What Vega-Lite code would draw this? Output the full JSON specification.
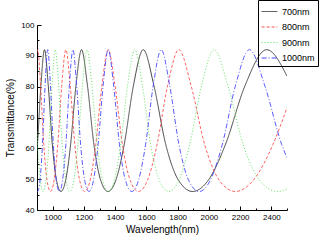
{
  "$schema": "https://vega.github.io/schema/vega-lite/v6.json",
  "width": 250,
  "height": 185,
  "autosize": {"type": "none"},
  "padding": {"left": 37, "top": 25, "right": 34, "bottom": 30},
  "background": "white",
  "config": {
    "view": {"stroke": null},
    "font": "Liberation Sans",
    "axis": {"grid": false, "domainColor": "#000", "tickColor": "#000", "labelColor": "#000", "titleColor": "#000", "labelFont": "Liberation Sans", "titleFont": "Liberation Sans", "labelFontSize": 8, "titleFontSize": 10, "titleFontWeight": "normal"}
  },
  "data": {"values": [
    {"s":"700nm","w":900,"t":59.27},{"s":"700nm","w":902.9,"t":61.33},{"s":"700nm","w":924.9,"t":80.25},{"s":"700nm","w":948,"t":92},{"s":"700nm","w":972.3,"t":80.25},{"s":"700nm","w":997.9,"t":61.33},{"s":"700nm","w":1024.9,"t":49.63},{"s":"700nm","w":1053.3,"t":46},{"s":"700nm","w":1083.4,"t":49.63},{"s":"700nm","w":1115.3,"t":61.33},{"s":"700nm","w":1149.1,"t":80.25},{"s":"700nm","w":1185,"t":92},{"s":"700nm","w":1223.2,"t":80.25},{"s":"700nm","w":1264,"t":61.33},{"s":"700nm","w":1307.6,"t":49.63},{"s":"700nm","w":1354.3,"t":46},{"s":"700nm","w":1404.4,"t":49.63},{"s":"700nm","w":1458.5,"t":61.33},{"s":"700nm","w":1516.8,"t":80.25},{"s":"700nm","w":1580,"t":92},{"s":"700nm","w":1648.7,"t":80.25},{"s":"700nm","w":1723.6,"t":61.33},{"s":"700nm","w":1805.7,"t":49.63},{"s":"700nm","w":1896,"t":46},{"s":"700nm","w":1995.8,"t":49.63},{"s":"700nm","w":2106.7,"t":61.33},{"s":"700nm","w":2230.6,"t":80.25},{"s":"700nm","w":2370,"t":92},{"s":"700nm","w":2500,"t":83.41},
    {"s":"800nm","w":900,"t":91.36},{"s":"800nm","w":904,"t":92},{"s":"800nm","w":923.2,"t":80.25},{"s":"800nm","w":943.3,"t":61.33},{"s":"800nm","w":964.3,"t":49.63},{"s":"800nm","w":986.2,"t":46},{"s":"800nm","w":1009.1,"t":49.63},{"s":"800nm","w":1033.1,"t":61.33},{"s":"800nm","w":1058.3,"t":80.25},{"s":"800nm","w":1084.8,"t":92},{"s":"800nm","w":1112.6,"t":80.25},{"s":"800nm","w":1141.9,"t":61.33},{"s":"800nm","w":1172.8,"t":49.63},{"s":"800nm","w":1205.3,"t":46},{"s":"800nm","w":1239.8,"t":49.63},{"s":"800nm","w":1276.2,"t":61.33},{"s":"800nm","w":1314.9,"t":80.25},{"s":"800nm","w":1356,"t":92},{"s":"800nm","w":1399.7,"t":80.25},{"s":"800nm","w":1446.4,"t":61.33},{"s":"800nm","w":1496.3,"t":49.63},{"s":"800nm","w":1549.7,"t":46},{"s":"800nm","w":1607.1,"t":49.63},{"s":"800nm","w":1668.9,"t":61.33},{"s":"800nm","w":1735.7,"t":80.25},{"s":"800nm","w":1808,"t":92},{"s":"800nm","w":1886.6,"t":80.25},{"s":"800nm","w":1972.4,"t":61.33},{"s":"800nm","w":2066.3,"t":49.63},{"s":"800nm","w":2169.6,"t":46},{"s":"800nm","w":2283.8,"t":49.63},{"s":"800nm","w":2410.7,"t":61.33},{"s":"800nm","w":2500,"t":73.15},
    {"s":"900nm","w":900,"t":65.42},{"s":"900nm","w":904,"t":61.33},{"s":"900nm","w":921.1,"t":49.63},{"s":"900nm","w":938.8,"t":46},{"s":"900nm","w":957.2,"t":49.63},{"s":"900nm","w":976.3,"t":61.33},{"s":"900nm","w":996.2,"t":80.25},{"s":"900nm","w":1017,"t":92},{"s":"900nm","w":1038.6,"t":80.25},{"s":"900nm","w":1061.2,"t":61.33},{"s":"900nm","w":1084.8,"t":49.63},{"s":"900nm","w":1109.5,"t":46},{"s":"900nm","w":1135.3,"t":49.63},{"s":"900nm","w":1162.3,"t":61.33},{"s":"900nm","w":1190.6,"t":80.25},{"s":"900nm","w":1220.4,"t":92},{"s":"900nm","w":1251.7,"t":80.25},{"s":"900nm","w":1284.6,"t":61.33},{"s":"900nm","w":1319.4,"t":49.63},{"s":"900nm","w":1356,"t":46},{"s":"900nm","w":1394.7,"t":49.63},{"s":"900nm","w":1435.8,"t":61.33},{"s":"900nm","w":1479.3,"t":80.25},{"s":"900nm","w":1525.5,"t":92},{"s":"900nm","w":1574.7,"t":80.25},{"s":"900nm","w":1627.2,"t":61.33},{"s":"900nm","w":1683.3,"t":49.63},{"s":"900nm","w":1743.4,"t":46},{"s":"900nm","w":1808,"t":49.63},{"s":"900nm","w":1877.5,"t":61.33},{"s":"900nm","w":1952.6,"t":80.25},{"s":"900nm","w":2034,"t":92},{"s":"900nm","w":2122.4,"t":80.25},{"s":"900nm","w":2218.9,"t":61.33},{"s":"900nm","w":2324.6,"t":49.63},{"s":"900nm","w":2440.8,"t":46},{"s":"900nm","w":2500,"t":46.8},
    {"s":"1000nm","w":900,"t":46.25},{"s":"1000nm","w":904,"t":46},{"s":"1000nm","w":919.3,"t":49.63},{"s":"1000nm","w":935.2,"t":61.33},{"s":"1000nm","w":951.6,"t":80.25},{"s":"1000nm","w":968.6,"t":92},{"s":"1000nm","w":986.2,"t":80.25},{"s":"1000nm","w":1004.4,"t":61.33},{"s":"1000nm","w":1023.4,"t":49.63},{"s":"1000nm","w":1043.1,"t":46},{"s":"1000nm","w":1063.5,"t":49.63},{"s":"1000nm","w":1084.8,"t":61.33},{"s":"1000nm","w":1106.9,"t":80.25},{"s":"1000nm","w":1130,"t":92},{"s":"1000nm","w":1154,"t":80.25},{"s":"1000nm","w":1179.1,"t":61.33},{"s":"1000nm","w":1205.3,"t":49.63},{"s":"1000nm","w":1232.7,"t":46},{"s":"1000nm","w":1261.4,"t":49.63},{"s":"1000nm","w":1291.4,"t":61.33},{"s":"1000nm","w":1322.9,"t":80.25},{"s":"1000nm","w":1356,"t":92},{"s":"1000nm","w":1390.8,"t":80.25},{"s":"1000nm","w":1427.4,"t":61.33},{"s":"1000nm","w":1465.9,"t":49.63},{"s":"1000nm","w":1506.7,"t":46},{"s":"1000nm","w":1549.7,"t":49.63},{"s":"1000nm","w":1595.3,"t":61.33},{"s":"1000nm","w":1643.6,"t":80.25},{"s":"1000nm","w":1695,"t":92},{"s":"1000nm","w":1749.7,"t":80.25},{"s":"1000nm","w":1808,"t":61.33},{"s":"1000nm","w":1870.3,"t":49.63},{"s":"1000nm","w":1937.1,"t":46},{"s":"1000nm","w":2008.9,"t":49.63},{"s":"1000nm","w":2086.2,"t":61.33},{"s":"1000nm","w":2169.6,"t":80.25},{"s":"1000nm","w":2260,"t":92},{"s":"1000nm","w":2358.3,"t":80.25},{"s":"1000nm","w":2465.5,"t":61.33},{"s":"1000nm","w":2500,"t":56.86}
  ]},
  "mark": {"type": "line", "interpolate": "monotone", "strokeWidth": 0.9, "clip": true},
  "encoding": {
    "x": {"field": "w", "type": "quantitative", "scale": {"domain": [900, 2500], "nice": false},
      "axis": {"title": "Wavelength(nm)", "values": [1000, 1100, 1200, 1300, 1400, 1500, 1600, 1700, 1800, 1900, 2000, 2100, 2200, 2300, 2400, 2500],
        "labelExpr": "datum.value % 200 === 0 && datum.value < 2500 ? format(datum.value, 'd') : ''",
        "tickSize": {"condition": {"test": "datum.value % 200 === 0", "value": -4}, "value": -2},
        "labelPadding": 7, "titlePadding": 3}},
    "y": {"field": "t", "type": "quantitative", "scale": {"domain": [40, 100], "nice": false},
      "axis": {"title": "Transmittance(%)", "values": [40, 45, 50, 55, 60, 65, 70, 75, 80, 85, 90, 95, 100],
        "labelExpr": "datum.value % 10 === 0 ? format(datum.value, 'd') : ''",
        "tickSize": {"condition": {"test": "datum.value % 10 === 0", "value": -4}, "value": -2},
        "labelPadding": 7, "titlePadding": 5}},
    "color": {"field": "s", "type": "nominal", "sort": ["700nm", "800nm", "900nm", "1000nm"],
      "scale": {"domain": ["700nm", "800nm", "900nm", "1000nm"], "range": ["#333333", "#ff5050", "#50e050", "#4848ff"]},
      "legend": {"title": null, "orient": "none", "legendX": 221, "legendY": -25, "strokeColor": "#000", "padding": 3, "symbolType": "stroke", "symbolSize": 250, "symbolStrokeWidth": 1, "labelFontSize": 9, "labelFont": "Liberation Sans", "labelColor": "#000", "rowPadding": 1.5, "cornerRadius": 0}},
    "strokeDash": {"field": "s", "type": "nominal",
      "scale": {"domain": ["700nm", "800nm", "900nm", "1000nm"], "range": [[1, 0], [3, 2], [1, 2], [5, 2, 1, 2]]}}
  }
}
